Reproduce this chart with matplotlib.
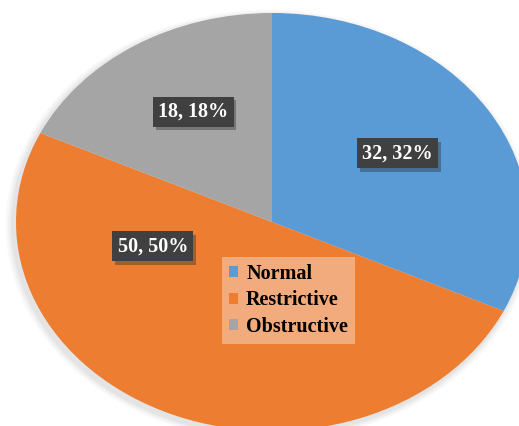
import matplotlib.pyplot as plt
import matplotlib.patheffects as pe
from matplotlib.patches import Ellipse, Patch
import numpy as np

# --- data ---
categories = ['Normal', 'Restrictive', 'Obstructive']
values = [32, 50, 18]
colors = ['#5B9BD5', '#ED7D31', '#A5A5A5']

# label anchors (polar, in unit-pie coords): angle in degrees, radius
label_angles = [33.8, 193.9, 120.2]
label_radii = [0.59, 0.48, 0.61]

plt.rcParams['font.family'] = ['Liberation Serif', 'DejaVu Serif']

fig = plt.figure(figsize=(5.19, 4.26), dpi=100)
ax = fig.add_axes([0, 0, 1, 1])

# soft shadow round the pie
for k, a in zip([1.03, 1.02, 1.01], [0.05, 0.07, 0.09]):
    ax.add_patch(Ellipse((-0.01, -0.015), 2 * k, 2 * k, facecolor='#808080',
                         edgecolor='none', alpha=a, zorder=0))

wedges, _ = ax.pie(values, colors=colors, startangle=90, counterclock=False,
                   wedgeprops=dict(linewidth=0))

ax.set_aspect('auto')
# pie centre at pixel (272, 222), radii 256 (x) and 209 (y)
ax.set_xlim(-272 / 256, 247 / 256)
ax.set_ylim(-204 / 209, 222 / 209)
ax.axis('off')

for v, ang, r in zip(values, label_angles, label_radii):
    x = r * np.cos(np.radians(ang))
    y = r * np.sin(np.radians(ang))
    t = ax.text(x, y, f'{v}, {v}%', ha='center', va='center', fontsize=14.5,
                fontweight='bold', color='white',
                bbox=dict(boxstyle='square,pad=0.25', facecolor='#404040',
                          edgecolor='none'), zorder=4)
    t.get_bbox_patch().set_path_effects(
        [pe.SimplePatchShadow(offset=(2, -2.5), shadow_rgbFace='#202020', alpha=0.35),
         pe.Normal()])

handles = [Patch(facecolor=c, edgecolor='none') for c in colors]
leg = ax.legend(handles, categories, loc='upper left',
                bbox_to_anchor=(222 / 519, 1 - 257 / 426), borderaxespad=0,
                prop=dict(family=['Liberation Serif'], weight='bold', size=14.5),
                handlelength=0.45, handleheight=0.45, handletextpad=0.4,
                labelspacing=0.32, borderpad=0.35, frameon=True, fancybox=False)
leg.get_frame().set_facecolor('#F2AB7C')
leg.get_frame().set_edgecolor('none')
leg.get_frame().set_alpha(1)

fig.savefig('out.png', dpi=100)
